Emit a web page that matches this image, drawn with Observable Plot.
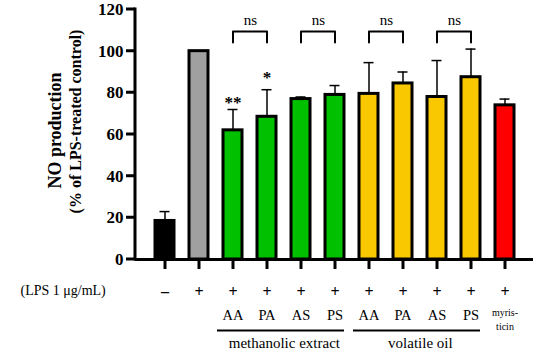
<!DOCTYPE html>
<html><head><meta charset="utf-8">
<script src="https://cdn.jsdelivr.net/npm/d3@7"></script>
<script src="https://cdn.jsdelivr.net/npm/@observablehq/plot@0.6"></script>
<style>body{margin:0;background:#fff} svg text{font-family:'Liberation Serif',serif;}</style>
</head><body><div id="chart"></div>
<script>
const ids = ["ctrl","lps","AA-m","PA-m","AS-m","PS-m","AA-v","PA-v","AS-v","PS-v","myr"];
const values = [18.5, 100, 62, 68.5, 77, 79, 79.5, 84.5, 78, 87.5, 74];
const errTops = [23, null, 72, 81.5, 78, 83.5, 94.5, 90, 95.5, 101, 77];
const colors = ["#000000","#a0a0a0","#00c000","#00c000","#00c000","#00c000","#fac800","#fac800","#fac800","#fac800","#ff0000"];
const lpsSigns = ["–","+","+","+","+","+","+","+","+","+","+"];
const subLabels = ["","","AA","PA","AS","PS","AA","PA","AS","PS",""];
const groupLabels = ["methanolic extract","volatile oil"];
const groupStart = ["AA-m","AA-v"];
const groupEnd = ["PS-m","PS-v"];
const groupMid = ["PA-m","PA-v"];
const nsPairs = [["AA-m","PA-m"],["AS-m","PS-m"],["AA-v","PA-v"],["AS-v","PS-v"]];
const starIds = ["AA-m","PA-m"];
const starTexts = ["**","*"];
const yTicks = [0,20,40,60,80,100,120];

const data = ids.map((id,i)=>({id, value: values[i], err: errTops[i], color: colors[i], sign: lpsSigns[i], sub: subLabels[i]}));
const errData = data.filter(d=>d.err!=null);
const groups = groupLabels.map((label,i)=>({label, x1: groupStart[i], x2: groupEnd[i], mid: groupMid[i]}));
const BR_TOP = 109.4, BR_BOT = 104.2;
const bracketPts = nsPairs.flatMap(([a,b],i)=>[
  {x:a,y:BR_BOT,z:i},{x:a,y:BR_TOP,z:i},{x:b,y:BR_TOP,z:i},{x:b,y:BR_BOT,z:i}]);
const stars = starIds.map((id,i)=>({id, text: starTexts[i], err: errTops[ids.indexOf(id)]}));

const chart = Plot.plot({
  width: 550, height: 356,
  marginLeft: 135, marginRight: 17, marginTop: 9, marginBottom: 97,
  style: {background: "#fff", overflow: "visible"},
  x: {type: "band", domain: ids, paddingInner: 0.45, paddingOuter: 0.46, axis: null},
  y: {domain: [0,120], axis: null},
  marks: [
    Plot.ruleX(errData, {x: "id", y1: "value", y2: "err", strokeWidth: 1.5, stroke: "#000"}),
    Plot.tickY(errData, {x: "id", y: "err", insetLeft: 4.5, insetRight: 4.5, strokeWidth: 1.5, stroke: "#000"}),
    Plot.barY(data, {x: "id", y: "value", fill: "color", stroke: "#000", strokeWidth: 3}),
    // y tick labels
    Plot.text(yTicks, {y: d => d, frameAnchor: "left", dx: -12, textAnchor: "end", lineAnchor: "middle", fontSize: 17, fontWeight: "bold", fill: "#000"}),
    Plot.axisX({tickSize: 10, strokeWidth: 3, tickFormat: () => "", label: null}),
    Plot.ruleY([0], {strokeWidth: 3}),
    // brackets
    Plot.line(bracketPts, {x: "x", y: "y", z: "z", strokeWidth: 2, stroke: "#000", curve: "linear"}),
    Plot.text(nsPairs, {x: d => d[0], y: BR_TOP, dx: 17.35, dy: -11, text: () => "ns", fontSize: 15, lineAnchor: "middle", fill: "#000"}),
    Plot.text(stars.slice(0,1), {x: "id", y: "err", text: "text", dy: -7, fontSize: 17, fontWeight: "bold", lineAnchor: "middle", fill: "#000"}),
    Plot.text(stars.slice(1), {x: "id", y: "err", text: "text", dy: -12, fontSize: 17, fontWeight: "bold", lineAnchor: "middle", fill: "#000"}),
    // below axis
    Plot.text(["(LPS 1 μg/mL)"], {frameAnchor: "bottom-left", dx: -115, dy: 31, textAnchor: "start", lineAnchor: "middle", fontSize: 14, fill: "#000"}),
    Plot.text(data, {x: "id", frameAnchor: "bottom", text: "sign", dy: 32, lineAnchor: "middle", fontSize: 16, fontWeight: "bold", fill: "#000"}),
    Plot.text(data, {x: "id", frameAnchor: "bottom", text: "sub", dy: 56, lineAnchor: "middle", fontSize: 14.5, fill: "#000"}),
    Plot.text(["myris-"], {x: () => "myr", frameAnchor: "bottom", dy: 53, lineAnchor: "middle", fontSize: 10, fill: "#000"}),
    Plot.text(["ticin"], {x: () => "myr", frameAnchor: "bottom", dy: 67, lineAnchor: "middle", fontSize: 10, fill: "#000"}),
    Plot.ruleY(groups, {y: 0, x1: "x1", x2: "x2", dy: 71, insetLeft: -6, strokeWidth: 2, stroke: "#000"}),
    Plot.text(groups, {x: "mid", frameAnchor: "bottom", text: "label", dx: 17.35, dy: 84, lineAnchor: "middle", fontSize: 15, letterSpacing: "0.4px", fill: "#000"}),
    // y label
    Plot.text(["NO production"], {frameAnchor: "left", textAnchor: "middle", dx: -80, dy: -4, rotate: -90, lineAnchor: "middle", fontSize: 18, fontWeight: "bold", letterSpacing: "1px", fill: "#000"}),
    Plot.text(["(% of LPS-treated control)"], {frameAnchor: "left", textAnchor: "middle", dx: -60, dy: -13, rotate: -90, lineAnchor: "middle", fontSize: 16, fontWeight: "bold", fill: "#000"})
  ]
});
// y axis line (filled bar) and its ticks, placed with Plot's own y scale
const ys = chart.scale("y");
const x0 = 135;
const g = d3.select(chart).append("g").attr("aria-label", "y-axis line");
g.append("rect")
  .attr("x", x0 - 1.5).attr("width", 3)
  .attr("y", ys.apply(120) - 1.5).attr("height", ys.apply(0) - ys.apply(120) + 3)
  .attr("fill", "#000");
let dPath = "";
for (const t of yTicks) dPath += `M${x0 - 9},${ys.apply(t)}H${x0}`;
g.append("path").attr("d", dPath).attr("fill", "none").attr("stroke", "#000").attr("stroke-width", 3);
document.getElementById("chart").appendChild(chart);
</script>
</body></html>
